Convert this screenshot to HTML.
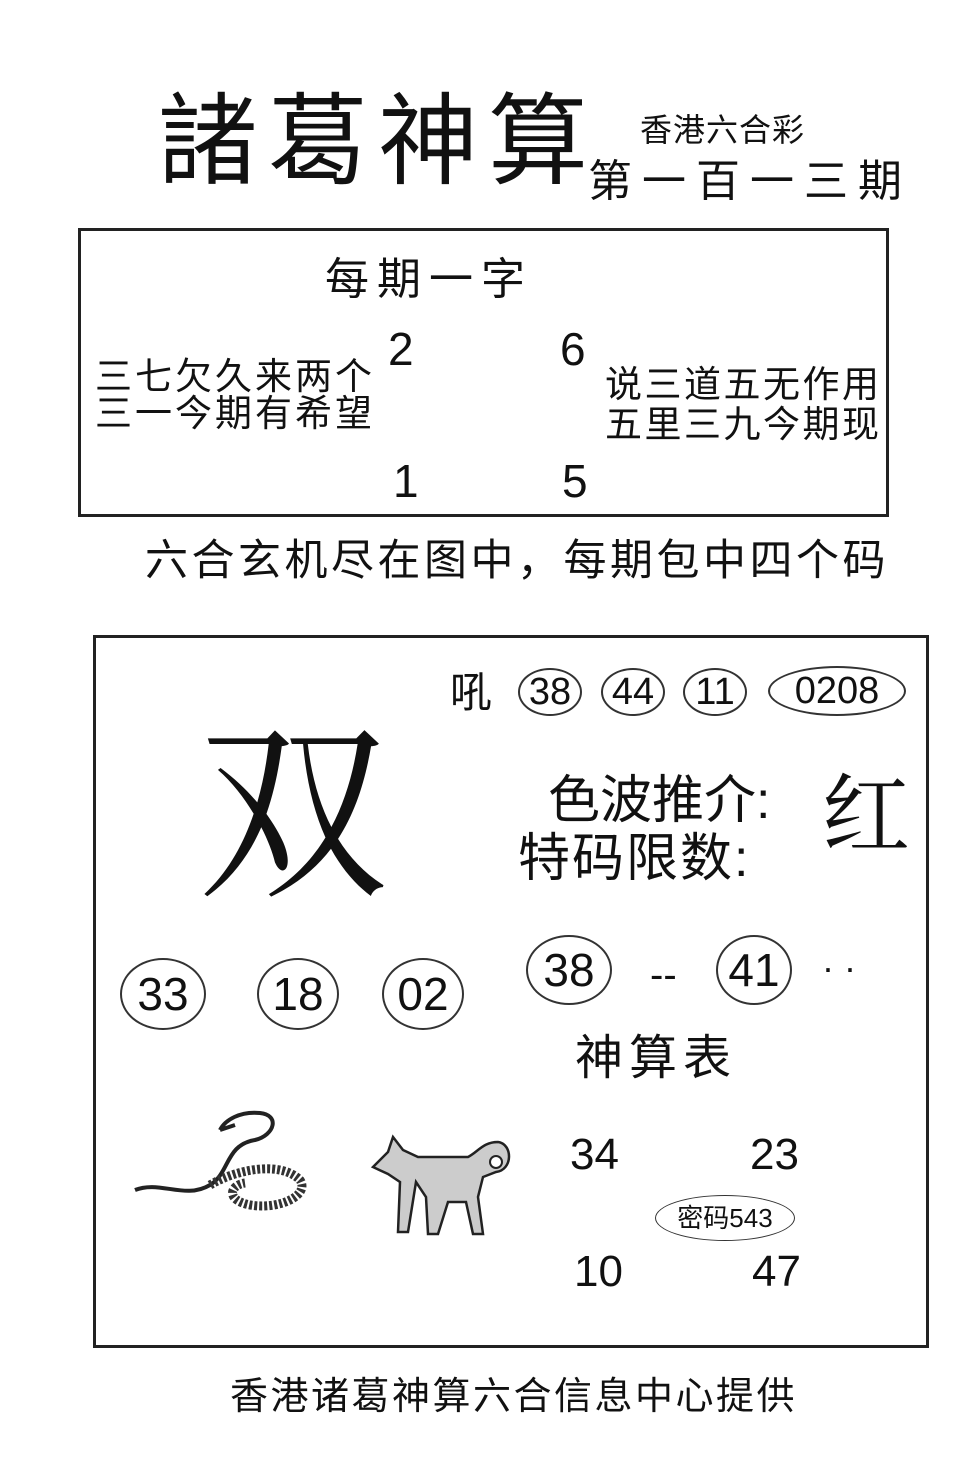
<!DOCTYPE html>
<html><head><meta charset="utf-8"><style>
html,body{margin:0;padding:0;background:#fff;}
body{width:978px;height:1458px;position:relative;overflow:hidden;font-family:"Liberation Sans","Noto Sans CJK SC",sans-serif;color:#111;}
.a{position:absolute;white-space:nowrap;line-height:1;}
.box{position:absolute;border:3px solid #222;box-sizing:border-box;}
.c{position:absolute;border:2px solid #333;border-radius:50%;box-sizing:border-box;display:flex;align-items:center;justify-content:center;line-height:1;}
</style></head><body>
<div class="a" style="left:158px;top:92px;font-size:100px;font-weight:normal;letter-spacing:10px;">諸葛神算</div>
<div class="a" style="left:640px;top:114px;font-size:32px;letter-spacing:1px;">香港六合彩</div>
<div class="a" style="left:588px;top:160px;font-size:44px;letter-spacing:10px;">第一百一三期</div>

<div class="box" style="left:78px;top:228px;width:811px;height:289px;"></div>
<div class="a" style="left:325px;top:258px;font-size:44px;letter-spacing:8px;">每期一字</div>
<div class="a" style="left:388px;top:326px;font-size:46px;">2</div>
<div class="a" style="left:560px;top:326px;font-size:46px;">6</div>
<div class="a" style="left:393px;top:458px;font-size:46px;">1</div>
<div class="a" style="left:562px;top:458px;font-size:46px;">5</div>
<div class="a" style="left:95px;top:358px;font-size:37px;line-height:37px;letter-spacing:3px;">三七欠久来两个<br>三一今期有希望</div>
<div class="a" style="left:605px;top:365px;font-size:37px;line-height:40px;letter-spacing:2.5px;">说三道五无作用<br>五里三九今期现</div>

<div class="a" style="left:145px;top:540px;font-size:43px;letter-spacing:3.5px;">六合玄机尽在图中，每期包中四个码</div>

<div class="box" style="left:93px;top:635px;width:836px;height:713px;"></div>
<div class="a" style="left:450px;top:672px;font-size:42px;">吼</div>
<div class="c" style="left:518px;top:668px;width:64px;height:48px;font-size:38px;">38</div>
<div class="c" style="left:601px;top:668px;width:64px;height:48px;font-size:38px;">44</div>
<div class="c" style="left:683px;top:668px;width:64px;height:48px;font-size:38px;">11</div>
<div class="c" style="left:768px;top:666px;width:138px;height:50px;font-size:38px;">0208</div>
<div class="a" style="left:198px;top:705px;font-size:190px;font-family:'Noto Serif CJK SC',serif;">双</div>
<div class="a" style="left:548px;top:775px;font-size:52px;">色波推介:</div>
<div class="a" style="left:822px;top:765px;font-size:88px;font-family:'Noto Serif CJK SC',serif;">红</div>
<div class="a" style="left:518px;top:833px;font-size:52px;letter-spacing:2px;">特码限数:</div>
<div class="c" style="left:120px;top:958px;width:86px;height:72px;font-size:46px;">33</div>
<div class="c" style="left:257px;top:958px;width:82px;height:72px;font-size:46px;">18</div>
<div class="c" style="left:382px;top:958px;width:82px;height:72px;font-size:46px;">02</div>
<div class="c" style="left:526px;top:935px;width:86px;height:70px;font-size:46px;">38</div>
<div class="a" style="left:650px;top:955px;font-size:40px;">--</div>
<div class="c" style="left:716px;top:935px;width:76px;height:70px;font-size:46px;">41</div>
<div class="a" style="left:822px;top:950px;font-size:36px;">· ·</div>
<div class="a" style="left:575px;top:1035px;font-size:48px;letter-spacing:6px;">神算表</div>
<div class="a" style="left:570px;top:1133px;font-size:44px;">34</div>
<div class="a" style="left:750px;top:1133px;font-size:44px;">23</div>
<div class="c" style="left:655px;top:1195px;width:140px;height:46px;font-size:26px;border-width:1.5px;">密码543</div>
<div class="a" style="left:574px;top:1250px;font-size:44px;">10</div>
<div class="a" style="left:752px;top:1250px;font-size:44px;">47</div>

<svg class="a" style="left:130px;top:1105px;" width="190" height="115" viewBox="0 0 190 115">
<path d="M5 85 C30 75 55 95 80 80 C100 68 95 40 125 35 C145 30 150 10 130 8 C110 6 95 15 90 25 M90 25 L105 20" fill="none" stroke="#222" stroke-width="4"/>
<path d="M80 80 C105 65 150 55 170 75 C180 90 150 105 120 100 C95 95 100 80 115 78" fill="none" stroke="#333" stroke-width="9" stroke-dasharray="3 2"/>
</svg>
<svg class="a" style="left:368px;top:1122px;" width="150" height="120" viewBox="0 0 150 120">
<path d="M5 45 L20 30 L25 15 L35 28 L50 35 L100 35 C110 30 115 20 130 20 C145 22 145 48 128 50 L115 55 L110 75 L115 112 L105 112 L98 80 L80 80 L70 112 L60 112 L58 75 L48 60 L40 110 L30 110 L32 60 L20 52 Z" fill="#ccc" stroke="#222" stroke-width="2.5"/>
<circle cx="128" cy="40" r="6" fill="#fff" stroke="#222" stroke-width="2"/>
</svg>

<div class="a" style="left:230px;top:1378px;font-size:38px;letter-spacing:2.5px;">香港诸葛神算六合信息中心提供</div>
</body></html>
